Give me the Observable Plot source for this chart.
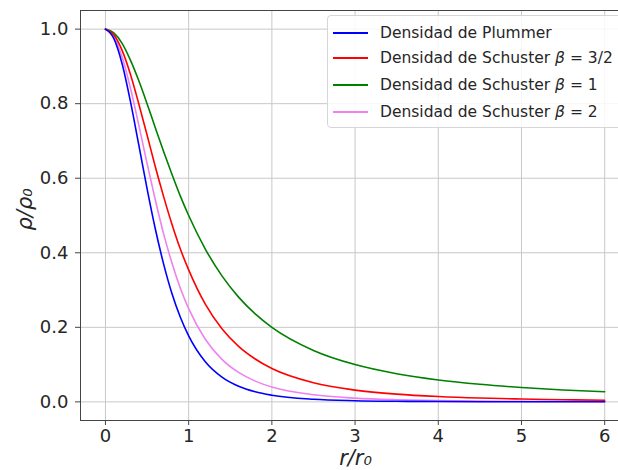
<!DOCTYPE html>
<html>
<head>
<meta charset="utf-8">
<script src="https://cdn.jsdelivr.net/npm/d3@7"></script>
<script src="https://cdn.jsdelivr.net/npm/@observablehq/plot@0.6"></script>
<style>
  html, body { margin: 0; padding: 0; background: #fff; overflow: hidden; }
  #wrap { position: relative; width: 618px; height: 470px; overflow: hidden; font-family: "DejaVu Sans", sans-serif; }
  #legend { position: absolute; left: 327px; top: 15px; width: 300px; height: 113px; box-sizing: border-box;
            border: 1px solid #d6d6d6; border-radius: 4px; background: rgba(255,255,255,0.85); }
  .row { position: absolute; left: 0; height: 20px; display: flex; align-items: center; font-size: 15.5px; color: #262626; white-space: nowrap; }
  .sw { display: inline-block; width: 35px; height: 2px; margin-left: 5px; margin-right: 12px; }
</style>
</head>
<body>
<div id="wrap"></div>
<script>
const r = [0, 0.1, 0.2, 0.3, 0.4, 0.5, 0.6, 0.7, 0.8, 0.9, 1.0, 1.2, 1.4, 1.6, 1.8, 2.0, 2.5, 3, 3.5, 4, 4.5, 5, 5.5, 6];
const plummer = [1, 0.975, 0.907, 0.806, 0.690, 0.572, 0.463, 0.369, 0.290, 0.227, 0.177, 0.1075, 0.0663, 0.0418, 0.0270, 0.0179, 0.00705, 0.00316, 0.00157, 0.00084, 0.00048, 0.00029, 0.00018, 0.00012];
const schuster15 = [1, 0.985, 0.943, 0.879, 0.800, 0.716, 0.630, 0.550, 0.476, 0.410, 0.354, 0.262, 0.196, 0.149, 0.115, 0.0894, 0.0512, 0.0316, 0.0207, 0.0143, 0.0102, 0.00754, 0.00573, 0.00444];
const schuster1 = [1, 0.990, 0.962, 0.917, 0.862, 0.800, 0.735, 0.671, 0.610, 0.552, 0.500, 0.410, 0.338, 0.281, 0.236, 0.200, 0.138, 0.100, 0.0755, 0.0588, 0.0471, 0.0385, 0.0320, 0.0270];
const schuster2 = [1, 0.980, 0.925, 0.842, 0.743, 0.640, 0.541, 0.450, 0.372, 0.305, 0.250, 0.168, 0.114, 0.0789, 0.0556, 0.040, 0.0190, 0.010, 0.0057, 0.00346, 0.00221, 0.00148, 0.00102, 0.00073];

const seriesNames = ["Densidad de Plummer", "Densidad de Schuster β = 3/2", "Densidad de Schuster β = 1", "Densidad de Schuster β = 2"];
const legendHtml = ["Densidad de Plummer", "Densidad de Schuster <i>β</i> = 3/2", "Densidad de Schuster <i>β</i> = 1", "Densidad de Schuster <i>β</i> = 2"];
const seriesValues = [plummer, schuster15, schuster1, schuster2];
const colors = ["#0000ff", "#ff0000", "#008000", "#ee82ee"];
const xTicks = [0, 1, 2, 3, 4, 5, 6];
const yTicks = [0, 0.2, 0.4, 0.6, 0.8, 1.0];

const data = [];
seriesNames.forEach((name, i) => r.forEach((x, j) => data.push({series: name, r: x, rho: seriesValues[i][j]})));

const lines = [3, 2, 1, 0].map(i => Plot.line(data.filter(d => d.series === seriesNames[i]), {
  x: "r", y: "rho", stroke: colors[i], strokeWidth: 1.6, curve: "monotone-x"
}));

const chart = Plot.plot({
  width: 618, height: 470,
  marginLeft: 80, marginRight: 0, marginTop: 10, marginBottom: 50,
  style: {fontFamily: "DejaVu Sans, sans-serif", fontSize: "18px", color: "#262626", background: "#fff"},
  x: {domain: [-0.3, 6.166], ticks: xTicks, label: null},
  y: {domain: [-0.05, 1.05], ticks: yTicks, label: null},
  marks: [
    Plot.gridX(xTicks, {stroke: "#c8c8c8", strokeOpacity: 1, strokeWidth: 1}),
    Plot.gridY(yTicks, {stroke: "#c8c8c8", strokeOpacity: 1, strokeWidth: 1}),
    ...lines,
    Plot.frame({anchor: "left", stroke: "#444"}),
    Plot.frame({anchor: "bottom", stroke: "#444"}),
    Plot.frame({anchor: "top", stroke: "#444"}),
    Plot.axisX(xTicks, {tickSize: 5, tickPadding: 4, stroke: "#444", fontSize: 18}),
    Plot.axisY(yTicks, {tickSize: 5, tickPadding: 7, stroke: "#444", tickFormat: d3.format(".1f"), fontSize: 18}),
    Plot.text(["ρ/ρ₀"], {frameAnchor: "left", dx: -55, dy: 15, rotate: -90, fontSize: 21, fontStyle: "italic", fill: "#262626"}),
    Plot.text(["r/r₀"], {frameAnchor: "bottom", dx: 6, dy: 44, fontSize: 21, fontStyle: "italic", fill: "#262626"})
  ]
});

const wrap = document.getElementById("wrap");
wrap.appendChild(chart);

const legend = document.createElement("div");
legend.id = "legend";
const rowTops = [7, 32, 59, 86];
legendHtml.forEach((t, i) => {
  const row = document.createElement("div");
  row.className = "row";
  row.style.top = rowTops[i] + "px";
  row.innerHTML = `<span class="sw" style="background:${colors[i]}"></span><span>${t}</span>`;
  legend.appendChild(row);
});
wrap.appendChild(legend);
</script>
</body>
</html>
